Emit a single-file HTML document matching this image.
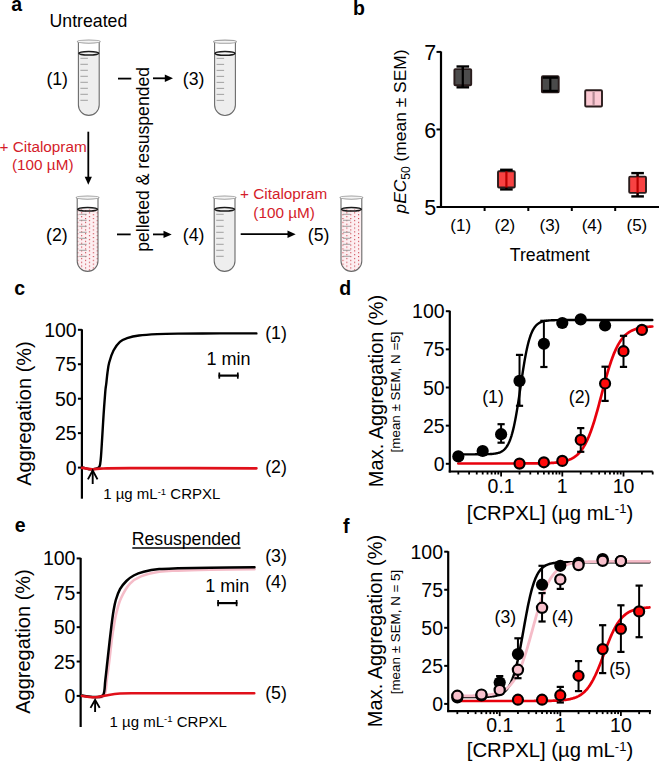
<!DOCTYPE html>
<html><head><meta charset="utf-8"><style>
html,body{margin:0;padding:0;background:#fff;}
svg{display:block;}
text{font-family:"Liberation Sans", sans-serif;}
</style></head><body>
<svg width="659" height="761" viewBox="0 0 659 761" font-family='"Liberation Sans", sans-serif'>
<defs>
<pattern id="dots" x="77.2" y="218.0" width="7.8" height="3.8" patternUnits="userSpaceOnUse">
<rect width="7.8" height="3.8" fill="#fdeff1"/>
<circle cx="0.6" cy="0.6" r="0.62" fill="#c8303c"/>
<circle cx="4.5" cy="2.5" r="0.62" fill="#c8303c"/>
</pattern>
</defs>
<text x="11.2" y="10.6" font-size="19.5" text-anchor="start" fill="#000" font-weight="bold" >a</text>
<text x="49.6" y="26.6" font-size="17.7" text-anchor="start" fill="#000" font-weight="normal" >Untreated</text>
<path d="M78.4,53.3 L78.4,105.0 A10.4,10.4 0 0 0 99.2,105.0 L99.2,53.3 Z" fill="#eeeeee"/>
<path d="M78.4,41.5 L78.4,105.0 A10.4,10.4 0 0 0 99.2,105.0 L99.2,41.5" fill="none" stroke="#6a6a6a" stroke-width="1.1"/>
<ellipse cx="88.80000000000001" cy="41.6" rx="11.5" ry="1.6" fill="#f4f4f4" stroke="#a0a0a0" stroke-width="1.1"/>
<line x1="80.4" y1="58.3" x2="87.9" y2="58.3" stroke="#999" stroke-width="0.9"/>
<line x1="80.4" y1="64.3" x2="87.9" y2="64.3" stroke="#999" stroke-width="0.9"/>
<line x1="80.4" y1="70.3" x2="87.9" y2="70.3" stroke="#999" stroke-width="0.9"/>
<line x1="80.4" y1="76.3" x2="87.9" y2="76.3" stroke="#999" stroke-width="0.9"/>
<line x1="80.4" y1="82.3" x2="87.9" y2="82.3" stroke="#999" stroke-width="0.9"/>
<line x1="80.4" y1="88.3" x2="87.9" y2="88.3" stroke="#999" stroke-width="0.9"/>
<line x1="80.4" y1="94.3" x2="87.9" y2="94.3" stroke="#999" stroke-width="0.9"/>
<line x1="80.4" y1="100.3" x2="87.9" y2="100.3" stroke="#999" stroke-width="0.9"/>
<ellipse cx="88.80000000000001" cy="53.3" rx="9.9" ry="1.8" fill="none" stroke="#1a1a1a" stroke-width="1.5"/>
<path d="M77.2,209.3 L77.2,261.0 A10.4,10.4 0 0 0 98.0,261.0 L98.0,209.3 Z" fill="url(#dots)"/>
<path d="M77.2,197.5 L77.2,261.0 A10.4,10.4 0 0 0 98.0,261.0 L98.0,197.5" fill="none" stroke="#6a6a6a" stroke-width="1.1"/>
<ellipse cx="87.60000000000001" cy="197.6" rx="11.5" ry="1.6" fill="#f4f4f4" stroke="#a0a0a0" stroke-width="1.1"/>
<line x1="79.2" y1="214.3" x2="86.7" y2="214.3" stroke="#999" stroke-width="0.9"/>
<line x1="79.2" y1="220.3" x2="86.7" y2="220.3" stroke="#999" stroke-width="0.9"/>
<line x1="79.2" y1="226.3" x2="86.7" y2="226.3" stroke="#999" stroke-width="0.9"/>
<line x1="79.2" y1="232.3" x2="86.7" y2="232.3" stroke="#999" stroke-width="0.9"/>
<line x1="79.2" y1="238.3" x2="86.7" y2="238.3" stroke="#999" stroke-width="0.9"/>
<line x1="79.2" y1="244.3" x2="86.7" y2="244.3" stroke="#999" stroke-width="0.9"/>
<line x1="79.2" y1="250.3" x2="86.7" y2="250.3" stroke="#999" stroke-width="0.9"/>
<line x1="79.2" y1="256.3" x2="86.7" y2="256.3" stroke="#999" stroke-width="0.9"/>
<ellipse cx="87.60000000000001" cy="209.3" rx="9.9" ry="1.8" fill="none" stroke="#1a1a1a" stroke-width="1.5"/>
<path d="M214.6,53.400000000000006 L214.6,105.1 A10.4,10.4 0 0 0 235.4,105.1 L235.4,53.400000000000006 Z" fill="#eeeeee"/>
<path d="M214.6,41.6 L214.6,105.1 A10.4,10.4 0 0 0 235.4,105.1 L235.4,41.6" fill="none" stroke="#6a6a6a" stroke-width="1.1"/>
<ellipse cx="225.0" cy="41.7" rx="11.5" ry="1.6" fill="#f4f4f4" stroke="#a0a0a0" stroke-width="1.1"/>
<line x1="216.6" y1="58.400000000000006" x2="224.1" y2="58.400000000000006" stroke="#999" stroke-width="0.9"/>
<line x1="216.6" y1="64.4" x2="224.1" y2="64.4" stroke="#999" stroke-width="0.9"/>
<line x1="216.6" y1="70.4" x2="224.1" y2="70.4" stroke="#999" stroke-width="0.9"/>
<line x1="216.6" y1="76.4" x2="224.1" y2="76.4" stroke="#999" stroke-width="0.9"/>
<line x1="216.6" y1="82.4" x2="224.1" y2="82.4" stroke="#999" stroke-width="0.9"/>
<line x1="216.6" y1="88.4" x2="224.1" y2="88.4" stroke="#999" stroke-width="0.9"/>
<line x1="216.6" y1="94.4" x2="224.1" y2="94.4" stroke="#999" stroke-width="0.9"/>
<line x1="216.6" y1="100.4" x2="224.1" y2="100.4" stroke="#999" stroke-width="0.9"/>
<ellipse cx="225.0" cy="53.400000000000006" rx="9.9" ry="1.8" fill="none" stroke="#1a1a1a" stroke-width="1.5"/>
<path d="M214.2,209.3 L214.2,261.0 A10.4,10.4 0 0 0 235.0,261.0 L235.0,209.3 Z" fill="#eeeeee"/>
<path d="M214.2,197.5 L214.2,261.0 A10.4,10.4 0 0 0 235.0,261.0 L235.0,197.5" fill="none" stroke="#6a6a6a" stroke-width="1.1"/>
<ellipse cx="224.6" cy="197.6" rx="11.5" ry="1.6" fill="#f4f4f4" stroke="#a0a0a0" stroke-width="1.1"/>
<line x1="216.2" y1="214.3" x2="223.7" y2="214.3" stroke="#999" stroke-width="0.9"/>
<line x1="216.2" y1="220.3" x2="223.7" y2="220.3" stroke="#999" stroke-width="0.9"/>
<line x1="216.2" y1="226.3" x2="223.7" y2="226.3" stroke="#999" stroke-width="0.9"/>
<line x1="216.2" y1="232.3" x2="223.7" y2="232.3" stroke="#999" stroke-width="0.9"/>
<line x1="216.2" y1="238.3" x2="223.7" y2="238.3" stroke="#999" stroke-width="0.9"/>
<line x1="216.2" y1="244.3" x2="223.7" y2="244.3" stroke="#999" stroke-width="0.9"/>
<line x1="216.2" y1="250.3" x2="223.7" y2="250.3" stroke="#999" stroke-width="0.9"/>
<line x1="216.2" y1="256.3" x2="223.7" y2="256.3" stroke="#999" stroke-width="0.9"/>
<ellipse cx="224.6" cy="209.3" rx="9.9" ry="1.8" fill="none" stroke="#1a1a1a" stroke-width="1.5"/>
<path d="M341,209.3 L341,261.0 A10.4,10.4 0 0 0 361.8,261.0 L361.8,209.3 Z" fill="url(#dots)"/>
<path d="M341,197.5 L341,261.0 A10.4,10.4 0 0 0 361.8,261.0 L361.8,197.5" fill="none" stroke="#6a6a6a" stroke-width="1.1"/>
<ellipse cx="351.4" cy="197.6" rx="11.5" ry="1.6" fill="#f4f4f4" stroke="#a0a0a0" stroke-width="1.1"/>
<line x1="343" y1="214.3" x2="350.5" y2="214.3" stroke="#999" stroke-width="0.9"/>
<line x1="343" y1="220.3" x2="350.5" y2="220.3" stroke="#999" stroke-width="0.9"/>
<line x1="343" y1="226.3" x2="350.5" y2="226.3" stroke="#999" stroke-width="0.9"/>
<line x1="343" y1="232.3" x2="350.5" y2="232.3" stroke="#999" stroke-width="0.9"/>
<line x1="343" y1="238.3" x2="350.5" y2="238.3" stroke="#999" stroke-width="0.9"/>
<line x1="343" y1="244.3" x2="350.5" y2="244.3" stroke="#999" stroke-width="0.9"/>
<line x1="343" y1="250.3" x2="350.5" y2="250.3" stroke="#999" stroke-width="0.9"/>
<line x1="343" y1="256.3" x2="350.5" y2="256.3" stroke="#999" stroke-width="0.9"/>
<ellipse cx="351.4" cy="209.3" rx="9.9" ry="1.8" fill="none" stroke="#1a1a1a" stroke-width="1.5"/>
<text x="46.4" y="84.8" font-size="17.7" text-anchor="start" fill="#000" font-weight="normal" >(1)</text>
<text x="46" y="240.6" font-size="17.7" text-anchor="start" fill="#000" font-weight="normal" >(2)</text>
<text x="182.8" y="84.8" font-size="17.7" text-anchor="start" fill="#000" font-weight="normal" >(3)</text>
<text x="182.8" y="240.6" font-size="17.7" text-anchor="start" fill="#000" font-weight="normal" >(4)</text>
<text x="307.8" y="240.6" font-size="17.7" text-anchor="start" fill="#000" font-weight="normal" >(5)</text>
<line x1="118" y1="78.6" x2="131.3" y2="78.6" stroke="#000" stroke-width="1.8" />
<line x1="153" y1="78.3" x2="167" y2="78.3" stroke="#000" stroke-width="1.8" />
<path d="M173,78.3 L164.8,74.6 L164.8,82.0 Z" fill="#000"/>
<line x1="117" y1="234.4" x2="130.7" y2="234.4" stroke="#000" stroke-width="1.8" />
<line x1="153" y1="234.4" x2="165.7" y2="234.4" stroke="#000" stroke-width="1.8" />
<path d="M171.7,234.4 L163.5,230.70000000000002 L163.5,238.1 Z" fill="#000"/>
<line x1="88.3" y1="131.7" x2="88.3" y2="178.8" stroke="#000" stroke-width="1.8" />
<path d="M88.3,184.8 L84.7,176.8 L91.89999999999999,176.8 Z" fill="#000"/>
<line x1="240.7" y1="234.2" x2="289.7" y2="234.2" stroke="#000" stroke-width="1.8" />
<path d="M295.7,234.2 L287.5,230.5 L287.5,237.89999999999998 Z" fill="#000"/>
<text transform="translate(148.5,159.4) rotate(-90)" font-size="17.6" text-anchor="middle">pelleted &amp; resuspended</text>
<text x="-0.5" y="151.9" font-size="15.3" text-anchor="start" fill="#d41c2a" font-weight="normal" >+ Citalopram</text>
<text x="12" y="169.7" font-size="15.3" text-anchor="start" fill="#d41c2a" font-weight="normal" >(100 µM)</text>
<text x="240" y="199.3" font-size="15.3" text-anchor="start" fill="#d41c2a" font-weight="normal" >+ Citalopram</text>
<text x="253.3" y="217.5" font-size="15.3" text-anchor="start" fill="#d41c2a" font-weight="normal" >(100 µM)</text>
<text x="353" y="14.8" font-size="19.5" text-anchor="start" fill="#000" font-weight="bold" >b</text>
<line x1="441" y1="51.4" x2="441" y2="208" stroke="#000" stroke-width="2.2" />
<line x1="440" y1="207" x2="659" y2="207" stroke="#000" stroke-width="2.2" />
<line x1="436.5" y1="207.0" x2="441" y2="207.0" stroke="#000" stroke-width="2" />
<text x="436.2" y="215.1" font-size="21.5" text-anchor="end" fill="#000" font-weight="normal" >5</text>
<line x1="436.5" y1="129.45" x2="441" y2="129.45" stroke="#000" stroke-width="2" />
<text x="436.2" y="137.54999999999998" font-size="21.5" text-anchor="end" fill="#000" font-weight="normal" >6</text>
<line x1="436.5" y1="51.900000000000006" x2="441" y2="51.900000000000006" stroke="#000" stroke-width="2" />
<text x="436.2" y="60.00000000000001" font-size="21.5" text-anchor="end" fill="#000" font-weight="normal" >7</text>
<line x1="484.6" y1="207" x2="484.6" y2="211" stroke="#000" stroke-width="2" />
<line x1="528.3" y1="207" x2="528.3" y2="211" stroke="#000" stroke-width="2" />
<line x1="571.8" y1="207" x2="571.8" y2="211" stroke="#000" stroke-width="2" />
<line x1="615.2" y1="207" x2="615.2" y2="211" stroke="#000" stroke-width="2" />
<text x="460.7" y="230.8" font-size="17" text-anchor="middle" fill="#000" font-weight="normal" >(1)</text>
<text x="504.9" y="230.8" font-size="17" text-anchor="middle" fill="#000" font-weight="normal" >(2)</text>
<text x="549.9" y="230.8" font-size="17" text-anchor="middle" fill="#000" font-weight="normal" >(3)</text>
<text x="592.1" y="230.8" font-size="17" text-anchor="middle" fill="#000" font-weight="normal" >(4)</text>
<text x="636.9" y="230.8" font-size="17" text-anchor="middle" fill="#000" font-weight="normal" >(5)</text>
<text x="549.8" y="261.2" font-size="17.7" text-anchor="middle" fill="#000" font-weight="normal" >Treatment</text>
<text transform="translate(406.3,131.5) rotate(-90)" font-size="17.4" text-anchor="middle"><tspan font-style="italic">pEC</tspan><tspan font-size="12" dy="4">50</tspan><tspan dy="-4"> (mean ± SEM)</tspan></text>
<rect x="454.40000000000003" y="69.10000000000001" width="16.8" height="16.2" rx="1" fill="#4c4c4c" stroke="#2a1c1c" stroke-width="1.9"/>
<line x1="462.8" y1="66.5" x2="462.8" y2="87.3" stroke="#000" stroke-width="2.2" />
<line x1="456.5" y1="66.5" x2="469.1" y2="66.5" stroke="#000" stroke-width="2.4" />
<line x1="456.5" y1="87.3" x2="469.1" y2="87.3" stroke="#000" stroke-width="2.4" />
<line x1="462.8" y1="66.5" x2="462.8" y2="69.10000000000001" stroke="#000" stroke-width="2.2" />
<line x1="462.8" y1="85.3" x2="462.8" y2="87.3" stroke="#000" stroke-width="2.2" />
<rect x="498.0" y="171.3" width="16.8" height="16.2" rx="1" fill="#f84242" stroke="#2a1c1c" stroke-width="1.9"/>
<line x1="506.4" y1="169.8" x2="506.4" y2="189.4" stroke="#b80000" stroke-width="2.2" />
<line x1="500.09999999999997" y1="169.8" x2="512.6999999999999" y2="169.8" stroke="#000" stroke-width="2.4" />
<line x1="500.09999999999997" y1="189.4" x2="512.6999999999999" y2="189.4" stroke="#000" stroke-width="2.4" />
<line x1="506.4" y1="169.8" x2="506.4" y2="171.3" stroke="#000" stroke-width="2.2" />
<line x1="506.4" y1="187.5" x2="506.4" y2="189.4" stroke="#000" stroke-width="2.2" />
<rect x="541.9" y="76.2" width="16.8" height="16.2" rx="1" fill="#4a4a4a" stroke="#2a1c1c" stroke-width="1.9"/>
<line x1="550.3" y1="77.6" x2="550.3" y2="91.0" stroke="#000" stroke-width="2.2" />
<line x1="542.6999999999999" y1="77.6" x2="557.9" y2="77.6" stroke="#000" stroke-width="2.4" />
<line x1="542.6999999999999" y1="91.0" x2="557.9" y2="91.0" stroke="#000" stroke-width="2.4" />
<rect x="585.2" y="90.30000000000001" width="16.8" height="16.2" rx="1" fill="#fbc8d2" stroke="#2a1c1c" stroke-width="1.9"/>
<line x1="593.6" y1="92.0" x2="593.6" y2="104.8" stroke="#b48a94" stroke-width="2.2" />
<rect x="629.2" y="176.65" width="16.8" height="16.2" rx="1" fill="#f84242" stroke="#2a1c1c" stroke-width="1.9"/>
<line x1="637.6" y1="173.1" x2="637.6" y2="196.4" stroke="#b80000" stroke-width="2.2" />
<line x1="631.3000000000001" y1="173.1" x2="643.9" y2="173.1" stroke="#000" stroke-width="2.4" />
<line x1="631.3000000000001" y1="196.4" x2="643.9" y2="196.4" stroke="#000" stroke-width="2.4" />
<line x1="637.6" y1="173.1" x2="637.6" y2="176.65" stroke="#000" stroke-width="2.2" />
<line x1="637.6" y1="192.85" x2="637.6" y2="196.4" stroke="#000" stroke-width="2.2" />
<text x="14.2" y="295.2" font-size="19.5" text-anchor="start" fill="#000" font-weight="bold" >c</text>
<line x1="81.9" y1="329.3" x2="81.9" y2="498.7" stroke="#000" stroke-width="2.2" />
<line x1="77.9" y1="467.6" x2="81.9" y2="467.6" stroke="#000" stroke-width="2" />
<text x="76.7" y="474.6" font-size="19.5" text-anchor="end" fill="#000" font-weight="normal" >0</text>
<line x1="77.9" y1="433.15000000000003" x2="81.9" y2="433.15000000000003" stroke="#000" stroke-width="2" />
<text x="76.7" y="440.15000000000003" font-size="19.5" text-anchor="end" fill="#000" font-weight="normal" >25</text>
<line x1="77.9" y1="398.70000000000005" x2="81.9" y2="398.70000000000005" stroke="#000" stroke-width="2" />
<text x="76.7" y="405.70000000000005" font-size="19.5" text-anchor="end" fill="#000" font-weight="normal" >50</text>
<line x1="77.9" y1="364.25" x2="81.9" y2="364.25" stroke="#000" stroke-width="2" />
<text x="76.7" y="371.25" font-size="19.5" text-anchor="end" fill="#000" font-weight="normal" >75</text>
<line x1="77.9" y1="329.8" x2="81.9" y2="329.8" stroke="#000" stroke-width="2" />
<text x="76.7" y="336.8" font-size="19.5" text-anchor="end" fill="#000" font-weight="normal" >100</text>
<text transform="translate(31.3,413.5) rotate(-90)" font-size="20" text-anchor="middle">Aggregation (%)</text>
<path d="M82.00,467.20 C83.17,467.53 86.67,468.97 89.00,469.20 C91.33,469.43 94.25,469.05 96.00,468.60 C97.75,468.15 98.70,468.15 99.50,466.50 C100.30,464.85 100.35,463.52 100.80,458.70 C101.25,453.88 101.73,444.97 102.20,437.60 C102.67,430.23 103.08,422.20 103.60,414.50 C104.12,406.80 104.87,396.45 105.30,391.40 C105.73,386.35 105.83,387.35 106.20,384.20 C106.57,381.05 107.00,376.12 107.50,372.50 C108.00,368.88 108.20,366.17 109.20,362.50 C110.20,358.83 111.72,353.95 113.50,350.50 C115.28,347.05 117.63,343.85 119.90,341.80 C122.17,339.75 123.92,339.25 127.10,338.20 C130.28,337.15 133.98,336.18 139.00,335.50 C144.02,334.82 150.70,334.42 157.20,334.10 C163.70,333.78 167.53,333.72 178.00,333.60 C188.47,333.48 206.93,333.43 220.00,333.40 C233.07,333.37 250.33,333.40 256.40,333.40" fill="none" stroke="#000" stroke-width="2.4" stroke-linejoin="round" stroke-linecap="round" />
<path d="M82.00,467.80 C83.67,468.05 89.00,469.17 92.00,469.30 C95.00,469.43 93.67,468.78 100.00,468.60 C106.33,468.42 103.93,468.25 130.00,468.20 C156.07,468.15 235.33,468.28 256.40,468.30" fill="none" stroke="#e0101a" stroke-width="2.7" stroke-linejoin="round" stroke-linecap="round" />
<text x="265.2" y="339.4" font-size="17.8" text-anchor="start" fill="#000" font-weight="normal" >(1)</text>
<text x="265.2" y="473.4" font-size="17.8" text-anchor="start" fill="#000" font-weight="normal" >(2)</text>
<text x="206.5" y="365.1" font-size="18" text-anchor="start" fill="#000" font-weight="normal" >1 min</text>
<line x1="218.5" y1="375.6" x2="238.6" y2="375.6" stroke="#000" stroke-width="2.2" />
<line x1="219.3" y1="372.5" x2="219.3" y2="378.7" stroke="#000" stroke-width="1.7" />
<line x1="237.8" y1="372.5" x2="237.8" y2="378.7" stroke="#000" stroke-width="1.7" />
<line x1="92.7" y1="484" x2="92.7" y2="471" stroke="#000" stroke-width="1.9" />
<path d="M87.9,479.4 L92.7,470.6 L97.5,479.4" fill="none" stroke="#000" stroke-width="1.9"/>
<text x="103.2" y="499.3" font-size="15">1 µg mL<tspan font-size="9.5" dy="-4.6">-1</tspan><tspan dy="4.6"> CRPXL</tspan></text>
<text x="339.3" y="295" font-size="19.5" text-anchor="start" fill="#000" font-weight="bold" >d</text>
<line x1="449.8" y1="310.7" x2="449.8" y2="472.5" stroke="#000" stroke-width="2.2" />
<line x1="448.8" y1="471.5" x2="652.7" y2="471.5" stroke="#000" stroke-width="2.2" />
<line x1="445.8" y1="463.8" x2="449.8" y2="463.8" stroke="#000" stroke-width="2" />
<text x="444.6" y="470.8" font-size="19.5" text-anchor="end" fill="#000" font-weight="normal" >0</text>
<line x1="445.8" y1="425.65" x2="449.8" y2="425.65" stroke="#000" stroke-width="2" />
<text x="444.6" y="432.65" font-size="19.5" text-anchor="end" fill="#000" font-weight="normal" >25</text>
<line x1="445.8" y1="387.5" x2="449.8" y2="387.5" stroke="#000" stroke-width="2" />
<text x="444.6" y="394.5" font-size="19.5" text-anchor="end" fill="#000" font-weight="normal" >50</text>
<line x1="445.8" y1="349.35" x2="449.8" y2="349.35" stroke="#000" stroke-width="2" />
<text x="444.6" y="356.35" font-size="19.5" text-anchor="end" fill="#000" font-weight="normal" >75</text>
<line x1="445.8" y1="311.2" x2="449.8" y2="311.2" stroke="#000" stroke-width="2" />
<text x="444.6" y="318.2" font-size="19.5" text-anchor="end" fill="#000" font-weight="normal" >100</text>
<line x1="458.3230357346356" y1="471.5" x2="458.3230357346356" y2="474.5" stroke="#000" stroke-width="1.8" />
<line x1="469.0998207888433" y1="471.5" x2="469.0998207888433" y2="474.5" stroke="#000" stroke-width="1.8" />
<line x1="476.74607146927127" y1="471.5" x2="476.74607146927127" y2="474.5" stroke="#000" stroke-width="1.8" />
<line x1="482.6769642653643" y1="471.5" x2="482.6769642653643" y2="474.5" stroke="#000" stroke-width="1.8" />
<line x1="487.52285652347894" y1="471.5" x2="487.52285652347894" y2="474.5" stroke="#000" stroke-width="1.8" />
<line x1="491.6200000488725" y1="471.5" x2="491.6200000488725" y2="474.5" stroke="#000" stroke-width="1.8" />
<line x1="495.1691072039069" y1="471.5" x2="495.1691072039069" y2="474.5" stroke="#000" stroke-width="1.8" />
<line x1="498.29964157768666" y1="471.5" x2="498.29964157768666" y2="474.5" stroke="#000" stroke-width="1.8" />
<line x1="501.09999999999997" y1="471.5" x2="501.09999999999997" y2="476.5" stroke="#000" stroke-width="1.8" />
<line x1="519.5230357346356" y1="471.5" x2="519.5230357346356" y2="474.5" stroke="#000" stroke-width="1.8" />
<line x1="530.2998207888432" y1="471.5" x2="530.2998207888432" y2="474.5" stroke="#000" stroke-width="1.8" />
<line x1="537.9460714692713" y1="471.5" x2="537.9460714692713" y2="474.5" stroke="#000" stroke-width="1.8" />
<line x1="543.8769642653643" y1="471.5" x2="543.8769642653643" y2="474.5" stroke="#000" stroke-width="1.8" />
<line x1="548.722856523479" y1="471.5" x2="548.722856523479" y2="474.5" stroke="#000" stroke-width="1.8" />
<line x1="552.8200000488724" y1="471.5" x2="552.8200000488724" y2="474.5" stroke="#000" stroke-width="1.8" />
<line x1="556.3691072039069" y1="471.5" x2="556.3691072039069" y2="474.5" stroke="#000" stroke-width="1.8" />
<line x1="559.4996415776866" y1="471.5" x2="559.4996415776866" y2="474.5" stroke="#000" stroke-width="1.8" />
<line x1="562.3" y1="471.5" x2="562.3" y2="476.5" stroke="#000" stroke-width="1.8" />
<line x1="580.7230357346356" y1="471.5" x2="580.7230357346356" y2="474.5" stroke="#000" stroke-width="1.8" />
<line x1="591.4998207888433" y1="471.5" x2="591.4998207888433" y2="474.5" stroke="#000" stroke-width="1.8" />
<line x1="599.1460714692713" y1="471.5" x2="599.1460714692713" y2="474.5" stroke="#000" stroke-width="1.8" />
<line x1="605.0769642653643" y1="471.5" x2="605.0769642653643" y2="474.5" stroke="#000" stroke-width="1.8" />
<line x1="609.9228565234789" y1="471.5" x2="609.9228565234789" y2="474.5" stroke="#000" stroke-width="1.8" />
<line x1="614.0200000488725" y1="471.5" x2="614.0200000488725" y2="474.5" stroke="#000" stroke-width="1.8" />
<line x1="617.5691072039069" y1="471.5" x2="617.5691072039069" y2="474.5" stroke="#000" stroke-width="1.8" />
<line x1="620.6996415776866" y1="471.5" x2="620.6996415776866" y2="474.5" stroke="#000" stroke-width="1.8" />
<line x1="623.5" y1="471.5" x2="623.5" y2="476.5" stroke="#000" stroke-width="1.8" />
<line x1="641.9230357346356" y1="471.5" x2="641.9230357346356" y2="474.5" stroke="#000" stroke-width="1.8" />
<line x1="652.6998207888433" y1="471.5" x2="652.6998207888433" y2="474.5" stroke="#000" stroke-width="1.8" />
<text x="501.09999999999997" y="493.3" font-size="19.5" text-anchor="middle" fill="#000" font-weight="normal" >0.1</text>
<text x="562.3" y="493.3" font-size="19.5" text-anchor="middle" fill="#000" font-weight="normal" >1</text>
<text x="623.5" y="493.3" font-size="19.5" text-anchor="middle" fill="#000" font-weight="normal" >10</text>
<text x="550.0" y="519.9" font-size="20.3" text-anchor="middle">[CRPXL] (µg mL<tspan font-size="13" dy="-6.5">-1</tspan><tspan dy="6.5">)</tspan></text>
<text transform="translate(382.8,391) rotate(-90)" font-size="20" text-anchor="middle">Max. Aggregation (%)</text>
<text transform="translate(399.7,392) rotate(-90)" font-size="13.4" text-anchor="middle">[mean ± SEM, N =5]</text>
<path d="M458.32,454.34 L458.94,454.34 L459.55,454.34 L460.16,454.34 L460.77,454.34 L461.38,454.34 L462.00,454.34 L462.61,454.34 L463.22,454.34 L463.83,454.34 L464.44,454.34 L465.06,454.34 L465.67,454.34 L466.28,454.34 L466.89,454.34 L467.50,454.34 L468.12,454.34 L468.73,454.34 L469.34,454.33 L469.95,454.33 L470.56,454.33 L471.18,454.33 L471.79,454.33 L472.40,454.33 L473.01,454.33 L473.62,454.33 L474.24,454.33 L474.85,454.33 L475.46,454.32 L476.07,454.32 L476.68,454.32 L477.30,454.32 L477.91,454.32 L478.52,454.31 L479.13,454.31 L479.74,454.30 L480.36,454.30 L480.97,454.30 L481.58,454.29 L482.19,454.28 L482.80,454.28 L483.42,454.27 L484.03,454.26 L484.64,454.25 L485.25,454.23 L485.86,454.22 L486.48,454.21 L487.09,454.19 L487.70,454.17 L488.31,454.15 L488.92,454.12 L489.54,454.09 L490.15,454.06 L490.76,454.02 L491.37,453.98 L491.98,453.93 L492.60,453.88 L493.21,453.82 L493.82,453.75 L494.43,453.67 L495.04,453.58 L495.66,453.48 L496.27,453.37 L496.88,453.24 L497.49,453.10 L498.10,452.94 L498.72,452.75 L499.33,452.54 L499.94,452.31 L500.55,452.05 L501.16,451.75 L501.78,451.41 L502.39,451.04 L503.00,450.61 L503.61,450.13 L504.22,449.59 L504.84,448.99 L505.45,448.32 L506.06,447.56 L506.67,446.71 L507.28,445.77 L507.90,444.71 L508.51,443.54 L509.12,442.24 L509.73,440.80 L510.34,439.21 L510.96,437.46 L511.57,435.53 L512.18,433.43 L512.79,431.14 L513.40,428.66 L514.02,425.98 L514.63,423.09 L515.24,420.01 L515.85,416.74 L516.46,413.29 L517.08,409.66 L517.69,405.88 L518.30,401.96 L518.91,397.94 L519.52,393.84 L520.14,389.69 L520.75,385.51 L521.36,381.35 L521.97,377.24 L522.58,373.20 L523.20,369.26 L523.81,365.45 L524.42,361.79 L525.03,358.30 L525.64,355.00 L526.26,351.88 L526.87,348.96 L527.48,346.24 L528.09,343.71 L528.70,341.39 L529.32,339.25 L529.93,337.29 L530.54,335.51 L531.15,333.89 L531.76,332.42 L532.38,331.09 L532.99,329.90 L533.60,328.82 L534.21,327.85 L534.82,326.99 L535.44,326.21 L536.05,325.52 L536.66,324.91 L537.27,324.36 L537.88,323.87 L538.50,323.43 L539.11,323.05 L539.72,322.70 L540.33,322.40 L540.94,322.13 L541.56,321.89 L542.17,321.68 L542.78,321.49 L543.39,321.32 L544.00,321.17 L544.62,321.04 L545.23,320.93 L545.84,320.83 L546.45,320.74 L547.06,320.66 L547.68,320.59 L548.29,320.52 L548.90,320.47 L549.51,320.42 L550.12,320.38 L550.74,320.34 L551.35,320.31 L551.96,320.28 L552.57,320.25 L553.18,320.23 L553.80,320.21 L554.41,320.19 L555.02,320.17 L555.63,320.16 L556.24,320.14 L556.86,320.13 L557.47,320.12 L558.08,320.12 L558.69,320.11 L559.30,320.10 L559.92,320.10 L560.53,320.09 L561.14,320.09 L561.75,320.08 L562.36,320.08 L562.98,320.07 L563.59,320.07 L564.20,320.07 L564.81,320.07 L565.42,320.07 L566.04,320.06 L566.65,320.06 L567.26,320.06 L567.87,320.06 L568.48,320.06 L569.10,320.06 L569.71,320.06 L570.32,320.06 L570.93,320.06 L571.54,320.06 L572.16,320.05 L572.77,320.05 L573.38,320.05 L573.99,320.05 L574.60,320.05 L575.22,320.05 L575.83,320.05 L576.44,320.05 L577.05,320.05 L577.66,320.05 L578.28,320.05 L578.89,320.05 L579.50,320.05 L580.11,320.05 L580.72,320.05 L581.34,320.05 L581.95,320.05 L582.56,320.05 L583.17,320.05 L583.78,320.05 L584.40,320.05 L585.01,320.05 L585.62,320.05 L586.23,320.05 L586.84,320.05 L587.46,320.05 L588.07,320.05 L588.68,320.05 L589.29,320.05 L589.90,320.05 L590.52,320.05 L591.13,320.05 L591.74,320.05 L592.35,320.05 L592.96,320.05 L593.58,320.05 L594.19,320.05 L594.80,320.05 L595.41,320.05 L596.02,320.05 L596.64,320.05 L597.25,320.05 L597.86,320.05 L598.47,320.05 L599.08,320.05 L599.70,320.05 L600.31,320.05 L600.92,320.05 L601.53,320.05 L602.14,320.05 L602.76,320.05 L603.37,320.05 L603.98,320.05 L604.59,320.05 L605.20,320.05 L605.82,320.05 L606.43,320.05 L607.04,320.05 L607.65,320.05 L608.26,320.05 L608.88,320.05 L609.49,320.05 L610.10,320.05 L610.71,320.05 L611.32,320.05 L611.94,320.05 L612.55,320.05 L613.16,320.05 L613.77,320.05 L614.38,320.05 L615.00,320.05 L615.61,320.05 L616.22,320.05 L616.83,320.05 L617.44,320.05 L618.06,320.05 L618.67,320.05 L619.28,320.05 L619.89,320.05 L620.50,320.05 L621.12,320.05 L621.73,320.05 L622.34,320.05 L622.95,320.05 L623.56,320.05 L624.18,320.05 L624.79,320.05 L625.40,320.05 L626.01,320.05 L626.62,320.05 L627.24,320.05 L627.85,320.05 L628.46,320.05 L629.07,320.05 L629.68,320.05 L630.30,320.05 L630.91,320.05 L631.52,320.05 L632.13,320.05 L632.74,320.05 L633.36,320.05 L633.97,320.05 L634.58,320.05 L635.19,320.05 L635.80,320.05 L636.42,320.05 L637.03,320.05 L637.64,320.05 L638.25,320.05 L638.86,320.05 L639.48,320.05 L640.09,320.05 L640.70,320.05 L641.31,320.05 L641.92,320.05 L642.54,320.05 L643.15,320.05 L643.76,320.05 L644.37,320.05 L644.98,320.05 L645.60,320.05 L646.21,320.05 L646.82,320.05 L647.43,320.05 L648.04,320.05 L648.66,320.05 L649.27,320.05 L649.88,320.05 L650.49,320.05 L651.10,320.05 L651.72,320.05 L652.33,320.05" fill="none" stroke="#000" stroke-width="2.4" stroke-linejoin="round" stroke-linecap="round" />
<path d="M458.32,463.49 L458.94,463.49 L459.55,463.49 L460.16,463.49 L460.77,463.49 L461.38,463.49 L462.00,463.49 L462.61,463.49 L463.22,463.49 L463.83,463.49 L464.44,463.49 L465.06,463.49 L465.67,463.49 L466.28,463.49 L466.89,463.49 L467.50,463.49 L468.12,463.49 L468.73,463.49 L469.34,463.49 L469.95,463.49 L470.56,463.49 L471.18,463.49 L471.79,463.49 L472.40,463.49 L473.01,463.49 L473.62,463.49 L474.24,463.49 L474.85,463.49 L475.46,463.49 L476.07,463.49 L476.68,463.49 L477.30,463.49 L477.91,463.49 L478.52,463.49 L479.13,463.49 L479.74,463.49 L480.36,463.49 L480.97,463.49 L481.58,463.49 L482.19,463.49 L482.80,463.49 L483.42,463.49 L484.03,463.49 L484.64,463.49 L485.25,463.49 L485.86,463.49 L486.48,463.49 L487.09,463.49 L487.70,463.49 L488.31,463.49 L488.92,463.49 L489.54,463.49 L490.15,463.49 L490.76,463.49 L491.37,463.49 L491.98,463.49 L492.60,463.49 L493.21,463.49 L493.82,463.49 L494.43,463.49 L495.04,463.49 L495.66,463.49 L496.27,463.49 L496.88,463.49 L497.49,463.49 L498.10,463.49 L498.72,463.49 L499.33,463.49 L499.94,463.49 L500.55,463.49 L501.16,463.49 L501.78,463.49 L502.39,463.49 L503.00,463.49 L503.61,463.49 L504.22,463.49 L504.84,463.49 L505.45,463.49 L506.06,463.49 L506.67,463.49 L507.28,463.49 L507.90,463.49 L508.51,463.49 L509.12,463.49 L509.73,463.49 L510.34,463.49 L510.96,463.49 L511.57,463.49 L512.18,463.49 L512.79,463.49 L513.40,463.49 L514.02,463.49 L514.63,463.49 L515.24,463.49 L515.85,463.48 L516.46,463.48 L517.08,463.48 L517.69,463.48 L518.30,463.48 L518.91,463.48 L519.52,463.48 L520.14,463.48 L520.75,463.48 L521.36,463.48 L521.97,463.47 L522.58,463.47 L523.20,463.47 L523.81,463.47 L524.42,463.47 L525.03,463.47 L525.64,463.46 L526.26,463.46 L526.87,463.46 L527.48,463.46 L528.09,463.46 L528.70,463.45 L529.32,463.45 L529.93,463.45 L530.54,463.44 L531.15,463.44 L531.76,463.44 L532.38,463.43 L532.99,463.43 L533.60,463.42 L534.21,463.42 L534.82,463.41 L535.44,463.41 L536.05,463.40 L536.66,463.39 L537.27,463.39 L537.88,463.38 L538.50,463.37 L539.11,463.36 L539.72,463.35 L540.33,463.34 L540.94,463.33 L541.56,463.32 L542.17,463.31 L542.78,463.29 L543.39,463.28 L544.00,463.26 L544.62,463.25 L545.23,463.23 L545.84,463.21 L546.45,463.19 L547.06,463.17 L547.68,463.15 L548.29,463.12 L548.90,463.10 L549.51,463.07 L550.12,463.04 L550.74,463.01 L551.35,462.97 L551.96,462.94 L552.57,462.90 L553.18,462.86 L553.80,462.81 L554.41,462.76 L555.02,462.71 L555.63,462.66 L556.24,462.60 L556.86,462.54 L557.47,462.47 L558.08,462.40 L558.69,462.32 L559.30,462.24 L559.92,462.15 L560.53,462.06 L561.14,461.96 L561.75,461.85 L562.36,461.74 L562.98,461.62 L563.59,461.49 L564.20,461.35 L564.81,461.20 L565.42,461.04 L566.04,460.87 L566.65,460.69 L567.26,460.50 L567.87,460.29 L568.48,460.07 L569.10,459.84 L569.71,459.59 L570.32,459.32 L570.93,459.04 L571.54,458.74 L572.16,458.41 L572.77,458.07 L573.38,457.70 L573.99,457.32 L574.60,456.90 L575.22,456.46 L575.83,456.00 L576.44,455.50 L577.05,454.97 L577.66,454.41 L578.28,453.82 L578.89,453.19 L579.50,452.52 L580.11,451.82 L580.72,451.07 L581.34,450.28 L581.95,449.45 L582.56,448.57 L583.17,447.64 L583.78,446.66 L584.40,445.63 L585.01,444.55 L585.62,443.41 L586.23,442.22 L586.84,440.97 L587.46,439.66 L588.07,438.29 L588.68,436.86 L589.29,435.38 L589.90,433.83 L590.52,432.21 L591.13,430.54 L591.74,428.81 L592.35,427.02 L592.96,425.17 L593.58,423.27 L594.19,421.31 L594.80,419.29 L595.41,417.23 L596.02,415.12 L596.64,412.97 L597.25,410.78 L597.86,408.56 L598.47,406.30 L599.08,404.02 L599.70,401.72 L600.31,399.40 L600.92,397.08 L601.53,394.74 L602.14,392.41 L602.76,390.08 L603.37,387.76 L603.98,385.46 L604.59,383.18 L605.20,380.92 L605.82,378.70 L606.43,376.51 L607.04,374.36 L607.65,372.25 L608.26,370.19 L608.88,368.18 L609.49,366.22 L610.10,364.31 L610.71,362.47 L611.32,360.67 L611.94,358.94 L612.55,357.27 L613.16,355.66 L613.77,354.11 L614.38,352.62 L615.00,351.20 L615.61,349.83 L616.22,348.52 L616.83,347.27 L617.44,346.08 L618.06,344.94 L618.67,343.86 L619.28,342.83 L619.89,341.85 L620.50,340.92 L621.12,340.04 L621.73,339.21 L622.34,338.42 L622.95,337.67 L623.56,336.97 L624.18,336.30 L624.79,335.67 L625.40,335.08 L626.01,334.52 L626.62,333.99 L627.24,333.50 L627.85,333.03 L628.46,332.59 L629.07,332.18 L629.68,331.79 L630.30,331.42 L630.91,331.08 L631.52,330.76 L632.13,330.46 L632.74,330.17 L633.36,329.91 L633.97,329.66 L634.58,329.42 L635.19,329.20 L635.80,329.00 L636.42,328.81 L637.03,328.63 L637.64,328.46 L638.25,328.30 L638.86,328.15 L639.48,328.01 L640.09,327.88 L640.70,327.76 L641.31,327.64 L641.92,327.54 L642.54,327.44 L643.15,327.34 L643.76,327.26 L644.37,327.18 L644.98,327.10 L645.60,327.03 L646.21,326.96 L646.82,326.90 L647.43,326.84 L648.04,326.79 L648.66,326.73 L649.27,326.69 L649.88,326.64 L650.49,326.60 L651.10,326.56 L651.72,326.52 L652.33,326.49" fill="none" stroke="#e8000c" stroke-width="2.7" stroke-linejoin="round" stroke-linecap="round" />
<circle cx="458.32" cy="456.4" r="6.1" fill="#000"/>
<circle cx="482.68" cy="451" r="6.1" fill="#000"/>
<line x1="501.09999999999997" y1="424.2" x2="501.09999999999997" y2="442.7" stroke="#000" stroke-width="2" />
<line x1="497.49999999999994" y1="424.2" x2="504.7" y2="424.2" stroke="#000" stroke-width="2.2" />
<line x1="497.49999999999994" y1="442.7" x2="504.7" y2="442.7" stroke="#000" stroke-width="2.2" />
<circle cx="501.10" cy="434.2" r="6.1" fill="#000"/>
<line x1="519.5230357346356" y1="354.9" x2="519.5230357346356" y2="405.8" stroke="#000" stroke-width="2" />
<line x1="515.9230357346356" y1="354.9" x2="523.1230357346357" y2="354.9" stroke="#000" stroke-width="2.2" />
<line x1="515.9230357346356" y1="405.8" x2="523.1230357346357" y2="405.8" stroke="#000" stroke-width="2.2" />
<circle cx="519.52" cy="380.9" r="6.1" fill="#000"/>
<line x1="543.8769642653643" y1="320.8" x2="543.8769642653643" y2="367" stroke="#000" stroke-width="2" />
<line x1="540.2769642653643" y1="320.8" x2="547.4769642653644" y2="320.8" stroke="#000" stroke-width="2.2" />
<line x1="540.2769642653643" y1="367" x2="547.4769642653644" y2="367" stroke="#000" stroke-width="2.2" />
<circle cx="543.88" cy="343.8" r="6.1" fill="#000"/>
<circle cx="562.30" cy="323" r="6.1" fill="#000"/>
<circle cx="580.72" cy="319.4" r="6.1" fill="#000"/>
<circle cx="605.08" cy="325.5" r="6.1" fill="#000"/>
<circle cx="519.52" cy="463.6" r="5.0" fill="#ff0a0a" stroke="#000" stroke-width="2.2"/>
<circle cx="543.88" cy="462.3" r="5.0" fill="#ff0a0a" stroke="#000" stroke-width="2.2"/>
<circle cx="562.30" cy="460.9" r="5.0" fill="#ff0a0a" stroke="#000" stroke-width="2.2"/>
<line x1="580.7230357346356" y1="428.1" x2="580.7230357346356" y2="451.8" stroke="#000" stroke-width="2" />
<line x1="577.1230357346356" y1="428.1" x2="584.3230357346356" y2="428.1" stroke="#000" stroke-width="2.2" />
<line x1="577.1230357346356" y1="451.8" x2="584.3230357346356" y2="451.8" stroke="#000" stroke-width="2.2" />
<circle cx="580.72" cy="439.9" r="5.0" fill="#ff0a0a" stroke="#000" stroke-width="2.2"/>
<line x1="605.0769642653643" y1="366.7" x2="605.0769642653643" y2="400.9" stroke="#000" stroke-width="2" />
<line x1="601.4769642653642" y1="366.7" x2="608.6769642653643" y2="366.7" stroke="#000" stroke-width="2.2" />
<line x1="601.4769642653642" y1="400.9" x2="608.6769642653643" y2="400.9" stroke="#000" stroke-width="2.2" />
<circle cx="605.08" cy="383.5" r="5.0" fill="#ff0a0a" stroke="#000" stroke-width="2.2"/>
<line x1="623.5" y1="335.8" x2="623.5" y2="366.9" stroke="#000" stroke-width="2" />
<line x1="619.9" y1="335.8" x2="627.1" y2="335.8" stroke="#000" stroke-width="2.2" />
<line x1="619.9" y1="366.9" x2="627.1" y2="366.9" stroke="#000" stroke-width="2.2" />
<circle cx="623.50" cy="351.2" r="5.0" fill="#ff0a0a" stroke="#000" stroke-width="2.2"/>
<circle cx="641.92" cy="329.9" r="5.0" fill="#ff0a0a" stroke="#000" stroke-width="2.2"/>
<text x="482.2" y="403.2" font-size="17.7" text-anchor="start" fill="#000" font-weight="normal" >(1)</text>
<text x="568.8" y="403.2" font-size="17.7" text-anchor="start" fill="#000" font-weight="normal" >(2)</text>
<text x="14.7" y="531.9" font-size="19.5" text-anchor="start" fill="#000" font-weight="bold" >e</text>
<line x1="80.65" y1="557.9" x2="80.65" y2="727" stroke="#000" stroke-width="2.2" />
<line x1="76.65" y1="695.9" x2="80.65" y2="695.9" stroke="#000" stroke-width="2" />
<text x="75.45" y="702.9" font-size="19.5" text-anchor="end" fill="#000" font-weight="normal" >0</text>
<line x1="76.65" y1="661.525" x2="80.65" y2="661.525" stroke="#000" stroke-width="2" />
<text x="75.45" y="668.525" font-size="19.5" text-anchor="end" fill="#000" font-weight="normal" >25</text>
<line x1="76.65" y1="627.15" x2="80.65" y2="627.15" stroke="#000" stroke-width="2" />
<text x="75.45" y="634.15" font-size="19.5" text-anchor="end" fill="#000" font-weight="normal" >50</text>
<line x1="76.65" y1="592.775" x2="80.65" y2="592.775" stroke="#000" stroke-width="2" />
<text x="75.45" y="599.775" font-size="19.5" text-anchor="end" fill="#000" font-weight="normal" >75</text>
<line x1="76.65" y1="558.4" x2="80.65" y2="558.4" stroke="#000" stroke-width="2" />
<text x="75.45" y="565.4" font-size="19.5" text-anchor="end" fill="#000" font-weight="normal" >100</text>
<text transform="translate(30.2,641.5) rotate(-90)" font-size="20" text-anchor="middle">Aggregation (%)</text>
<text x="131.8" y="545.3" font-size="17.65">Resuspended</text>
<line x1="132.3" y1="548.0" x2="240.5" y2="548.0" stroke="#000" stroke-width="1.4" />
<path d="M82.00,695.60 C84.00,695.88 90.28,697.33 94.00,697.30 C97.72,697.27 102.13,698.62 104.30,695.40 C106.47,692.18 106.13,683.98 107.00,678.00 C107.87,672.02 108.67,666.17 109.50,659.50 C110.33,652.83 111.22,643.92 112.00,638.00 C112.78,632.08 113.45,628.25 114.20,624.00 C114.95,619.75 115.37,616.80 116.50,612.50 C117.63,608.20 118.75,603.00 121.00,598.20 C123.25,593.40 126.67,587.33 130.00,583.70 C133.33,580.07 136.13,578.38 141.00,576.40 C145.87,574.42 153.03,572.77 159.20,571.80 C165.37,570.83 169.53,570.93 178.00,570.60 C186.47,570.27 197.25,570.02 210.00,569.80 C222.75,569.58 247.08,569.38 254.50,569.30" fill="none" stroke="#f5bcc8" stroke-width="2.6" stroke-linejoin="round" stroke-linecap="round" />
<path d="M82.00,695.60 C84.13,695.83 91.27,697.10 94.80,697.00 C98.33,696.90 101.45,697.78 103.20,695.00 C104.95,692.22 104.60,685.92 105.30,680.30 C106.00,674.68 106.70,667.62 107.40,661.30 C108.10,654.98 108.80,648.53 109.50,642.40 C110.20,636.27 110.93,629.73 111.60,624.50 C112.27,619.27 112.80,615.08 113.50,611.00 C114.20,606.92 114.72,603.65 115.80,600.00 C116.88,596.35 118.23,592.27 120.00,589.10 C121.77,585.93 124.12,583.27 126.40,581.00 C128.68,578.73 130.82,577.03 133.70,575.50 C136.58,573.97 139.45,572.87 143.70,571.80 C147.95,570.73 153.48,569.68 159.20,569.10 C164.92,568.52 169.53,568.52 178.00,568.30 C186.47,568.08 197.25,567.98 210.00,567.80 C222.75,567.62 247.08,567.30 254.50,567.20" fill="none" stroke="#000" stroke-width="2.5" stroke-linejoin="round" stroke-linecap="round" />
<path d="M82.00,696.00 C83.78,696.22 88.98,697.33 92.70,697.30 C96.42,697.27 99.75,696.45 104.30,695.80 C108.85,695.15 112.38,693.83 120.00,693.40 C127.62,692.97 127.62,693.22 150.00,693.20 C172.38,693.18 236.92,693.28 254.30,693.30" fill="none" stroke="#e0101a" stroke-width="2.5" stroke-linejoin="round" stroke-linecap="round" />
<text x="265.2" y="561.6" font-size="17.8" text-anchor="start" fill="#000" font-weight="normal" >(3)</text>
<text x="265.2" y="588.4" font-size="17.8" text-anchor="start" fill="#000" font-weight="normal" >(4)</text>
<text x="265.2" y="699.4" font-size="17.8" text-anchor="start" fill="#000" font-weight="normal" >(5)</text>
<text x="205.3" y="592.1" font-size="18" text-anchor="start" fill="#000" font-weight="normal" >1 min</text>
<line x1="217.3" y1="603.1" x2="237.4" y2="603.1" stroke="#000" stroke-width="2.2" />
<line x1="218.1" y1="600" x2="218.1" y2="606.2" stroke="#000" stroke-width="1.7" />
<line x1="236.6" y1="600" x2="236.6" y2="606.2" stroke="#000" stroke-width="1.7" />
<line x1="95.1" y1="712" x2="95.1" y2="700.5" stroke="#000" stroke-width="1.9" />
<path d="M90.5,707.9 L95.1,699.9 L99.7,707.9" fill="none" stroke="#000" stroke-width="1.9"/>
<text x="109.6" y="726.8" font-size="15">1 µg mL<tspan font-size="9.5" dy="-4.6">-1</tspan><tspan dy="4.6"> CRPXL</tspan></text>
<text x="343" y="532.5" font-size="19.5" text-anchor="start" fill="#000" font-weight="bold" >f</text>
<line x1="448.2" y1="551.2" x2="448.2" y2="712.1" stroke="#000" stroke-width="2.2" />
<line x1="447.2" y1="711.1" x2="651" y2="711.1" stroke="#000" stroke-width="2.2" />
<line x1="444.2" y1="703.9" x2="448.2" y2="703.9" stroke="#000" stroke-width="2" />
<text x="443.0" y="710.9" font-size="19.5" text-anchor="end" fill="#000" font-weight="normal" >0</text>
<line x1="444.2" y1="665.85" x2="448.2" y2="665.85" stroke="#000" stroke-width="2" />
<text x="443.0" y="672.85" font-size="19.5" text-anchor="end" fill="#000" font-weight="normal" >25</text>
<line x1="444.2" y1="627.8" x2="448.2" y2="627.8" stroke="#000" stroke-width="2" />
<text x="443.0" y="634.8" font-size="19.5" text-anchor="end" fill="#000" font-weight="normal" >50</text>
<line x1="444.2" y1="589.75" x2="448.2" y2="589.75" stroke="#000" stroke-width="2" />
<text x="443.0" y="596.75" font-size="19.5" text-anchor="end" fill="#000" font-weight="normal" >75</text>
<line x1="444.2" y1="551.7" x2="448.2" y2="551.7" stroke="#000" stroke-width="2" />
<text x="443.0" y="558.7" font-size="19.5" text-anchor="end" fill="#000" font-weight="normal" >100</text>
<line x1="457.3424177372372" y1="711.1" x2="457.3424177372372" y2="714.1" stroke="#000" stroke-width="1.8" />
<line x1="468.0135480360115" y1="711.1" x2="468.0135480360115" y2="714.1" stroke="#000" stroke-width="1.8" />
<line x1="475.58483547447446" y1="711.1" x2="475.58483547447446" y2="714.1" stroke="#000" stroke-width="1.8" />
<line x1="481.4575822627627" y1="711.1" x2="481.4575822627627" y2="714.1" stroke="#000" stroke-width="1.8" />
<line x1="486.25596577324876" y1="711.1" x2="486.25596577324876" y2="714.1" stroke="#000" stroke-width="1.8" />
<line x1="490.31294122486395" y1="711.1" x2="490.31294122486395" y2="714.1" stroke="#000" stroke-width="1.8" />
<line x1="493.82725321171176" y1="711.1" x2="493.82725321171176" y2="714.1" stroke="#000" stroke-width="1.8" />
<line x1="496.927096072023" y1="711.1" x2="496.927096072023" y2="714.1" stroke="#000" stroke-width="1.8" />
<line x1="499.69999999999993" y1="711.1" x2="499.69999999999993" y2="716.1" stroke="#000" stroke-width="1.8" />
<line x1="517.9424177372372" y1="711.1" x2="517.9424177372372" y2="714.1" stroke="#000" stroke-width="1.8" />
<line x1="528.6135480360115" y1="711.1" x2="528.6135480360115" y2="714.1" stroke="#000" stroke-width="1.8" />
<line x1="536.1848354744744" y1="711.1" x2="536.1848354744744" y2="714.1" stroke="#000" stroke-width="1.8" />
<line x1="542.0575822627627" y1="711.1" x2="542.0575822627627" y2="714.1" stroke="#000" stroke-width="1.8" />
<line x1="546.8559657732487" y1="711.1" x2="546.8559657732487" y2="714.1" stroke="#000" stroke-width="1.8" />
<line x1="550.912941224864" y1="711.1" x2="550.912941224864" y2="714.1" stroke="#000" stroke-width="1.8" />
<line x1="554.4272532117118" y1="711.1" x2="554.4272532117118" y2="714.1" stroke="#000" stroke-width="1.8" />
<line x1="557.527096072023" y1="711.1" x2="557.527096072023" y2="714.1" stroke="#000" stroke-width="1.8" />
<line x1="560.3" y1="711.1" x2="560.3" y2="716.1" stroke="#000" stroke-width="1.8" />
<line x1="578.5424177372372" y1="711.1" x2="578.5424177372372" y2="714.1" stroke="#000" stroke-width="1.8" />
<line x1="589.2135480360115" y1="711.1" x2="589.2135480360115" y2="714.1" stroke="#000" stroke-width="1.8" />
<line x1="596.7848354744744" y1="711.1" x2="596.7848354744744" y2="714.1" stroke="#000" stroke-width="1.8" />
<line x1="602.6575822627627" y1="711.1" x2="602.6575822627627" y2="714.1" stroke="#000" stroke-width="1.8" />
<line x1="607.4559657732487" y1="711.1" x2="607.4559657732487" y2="714.1" stroke="#000" stroke-width="1.8" />
<line x1="611.5129412248639" y1="711.1" x2="611.5129412248639" y2="714.1" stroke="#000" stroke-width="1.8" />
<line x1="615.0272532117117" y1="711.1" x2="615.0272532117117" y2="714.1" stroke="#000" stroke-width="1.8" />
<line x1="618.127096072023" y1="711.1" x2="618.127096072023" y2="714.1" stroke="#000" stroke-width="1.8" />
<line x1="620.9" y1="711.1" x2="620.9" y2="716.1" stroke="#000" stroke-width="1.8" />
<line x1="639.1424177372372" y1="711.1" x2="639.1424177372372" y2="714.1" stroke="#000" stroke-width="1.8" />
<line x1="649.8135480360115" y1="711.1" x2="649.8135480360115" y2="714.1" stroke="#000" stroke-width="1.8" />
<text x="499.69999999999993" y="732.2" font-size="19.5" text-anchor="middle" fill="#000" font-weight="normal" >0.1</text>
<text x="560.3" y="732.2" font-size="19.5" text-anchor="middle" fill="#000" font-weight="normal" >1</text>
<text x="620.9" y="732.2" font-size="19.5" text-anchor="middle" fill="#000" font-weight="normal" >10</text>
<text x="550.0" y="757" font-size="20.3" text-anchor="middle">[CRPXL] (µg mL<tspan font-size="13" dy="-6.5">-1</tspan><tspan dy="6.5">)</tspan></text>
<text transform="translate(382,631) rotate(-90)" font-size="20" text-anchor="middle">Max. Aggregation (%)</text>
<text transform="translate(399.7,632) rotate(-90)" font-size="13.4" text-anchor="middle">[mean ± SEM, N = 5]</text>
<path d="M457.34,697.05 L457.95,697.05 L458.55,697.05 L459.16,697.05 L459.77,697.05 L460.37,697.05 L460.98,697.05 L461.58,697.05 L462.19,697.05 L462.80,697.05 L463.40,697.05 L464.01,697.04 L464.61,697.04 L465.22,697.04 L465.83,697.04 L466.43,697.04 L467.04,697.04 L467.64,697.04 L468.25,697.04 L468.86,697.04 L469.46,697.04 L470.07,697.03 L470.67,697.03 L471.28,697.03 L471.89,697.03 L472.49,697.02 L473.10,697.02 L473.70,697.02 L474.31,697.02 L474.92,697.01 L475.52,697.01 L476.13,697.00 L476.73,697.00 L477.34,696.99 L477.95,696.99 L478.55,696.98 L479.16,696.97 L479.76,696.96 L480.37,696.95 L480.98,696.94 L481.58,696.93 L482.19,696.92 L482.79,696.90 L483.40,696.89 L484.01,696.87 L484.61,696.85 L485.22,696.83 L485.82,696.81 L486.43,696.78 L487.04,696.75 L487.64,696.72 L488.25,696.68 L488.85,696.65 L489.46,696.60 L490.07,696.56 L490.67,696.50 L491.28,696.44 L491.88,696.38 L492.49,696.31 L493.10,696.23 L493.70,696.14 L494.31,696.05 L494.91,695.94 L495.52,695.82 L496.13,695.69 L496.73,695.55 L497.34,695.39 L497.94,695.22 L498.55,695.03 L499.16,694.81 L499.76,694.58 L500.37,694.32 L500.97,694.04 L501.58,693.72 L502.19,693.38 L502.79,693.00 L503.40,692.58 L504.00,692.12 L504.61,691.62 L505.22,691.07 L505.82,690.46 L506.43,689.79 L507.03,689.07 L507.64,688.27 L508.25,687.40 L508.85,686.45 L509.46,685.42 L510.06,684.30 L510.67,683.08 L511.28,681.76 L511.88,680.33 L512.49,678.79 L513.09,677.13 L513.70,675.35 L514.31,673.44 L514.91,671.40 L515.52,669.23 L516.12,666.92 L516.73,664.49 L517.34,661.92 L517.94,659.22 L518.55,656.41 L519.15,653.47 L519.76,650.43 L520.37,647.30 L520.97,644.08 L521.58,640.78 L522.18,637.44 L522.79,634.05 L523.40,630.64 L524.00,627.23 L524.61,623.82 L525.21,620.45 L525.82,617.13 L526.43,613.86 L527.03,610.67 L527.64,607.57 L528.24,604.58 L528.85,601.69 L529.46,598.92 L530.06,596.28 L530.67,593.76 L531.27,591.38 L531.88,589.13 L532.49,587.01 L533.09,585.03 L533.70,583.17 L534.30,581.44 L534.91,579.83 L535.52,578.33 L536.12,576.95 L536.73,575.67 L537.33,574.49 L537.94,573.40 L538.55,572.41 L539.15,571.49 L539.76,570.65 L540.36,569.88 L540.97,569.18 L541.58,568.54 L542.18,567.96 L542.79,567.42 L543.39,566.94 L544.00,566.50 L544.61,566.09 L545.21,565.73 L545.82,565.40 L546.42,565.10 L547.03,564.82 L547.64,564.57 L548.24,564.35 L548.85,564.15 L549.45,563.96 L550.06,563.79 L550.67,563.64 L551.27,563.50 L551.88,563.38 L552.48,563.27 L553.09,563.17 L553.70,563.07 L554.30,562.99 L554.91,562.91 L555.51,562.85 L556.12,562.78 L556.73,562.73 L557.33,562.68 L557.94,562.63 L558.54,562.59 L559.15,562.55 L559.76,562.52 L560.36,562.49 L560.97,562.46 L561.57,562.44 L562.18,562.41 L562.79,562.39 L563.39,562.37 L564.00,562.36 L564.60,562.34 L565.21,562.33 L565.82,562.32 L566.42,562.31 L567.03,562.30 L567.63,562.29 L568.24,562.28 L568.85,562.27 L569.45,562.26 L570.06,562.26 L570.66,562.25 L571.27,562.25 L571.88,562.24 L572.48,562.24 L573.09,562.24 L573.69,562.23 L574.30,562.23 L574.91,562.23 L575.51,562.22 L576.12,562.22 L576.72,562.22 L577.33,562.22 L577.94,562.22 L578.54,562.22 L579.15,562.21 L579.75,562.21 L580.36,562.21 L580.97,562.21 L581.57,562.21 L582.18,562.21 L582.78,562.21 L583.39,562.21 L584.00,562.21 L584.60,562.21 L585.21,562.21 L585.81,562.21 L586.42,562.21 L587.03,562.21 L587.63,562.20 L588.24,562.20 L588.84,562.20 L589.45,562.20 L590.06,562.20 L590.66,562.20 L591.27,562.20 L591.87,562.20 L592.48,562.20 L593.09,562.20 L593.69,562.20 L594.30,562.20 L594.90,562.20 L595.51,562.20 L596.12,562.20 L596.72,562.20 L597.33,562.20 L597.93,562.20 L598.54,562.20 L599.15,562.20 L599.75,562.20 L600.36,562.20 L600.96,562.20 L601.57,562.20 L602.18,562.20 L602.78,562.20 L603.39,562.20 L603.99,562.20 L604.60,562.20 L605.21,562.20 L605.81,562.20 L606.42,562.20 L607.02,562.20 L607.63,562.20 L608.24,562.20 L608.84,562.20 L609.45,562.20 L610.05,562.20 L610.66,562.20 L611.27,562.20 L611.87,562.20 L612.48,562.20 L613.08,562.20 L613.69,562.20 L614.30,562.20 L614.90,562.20 L615.51,562.20 L616.11,562.20 L616.72,562.20 L617.33,562.20 L617.93,562.20 L618.54,562.20 L619.14,562.20 L619.75,562.20 L620.36,562.20 L620.96,562.20 L621.57,562.20 L622.17,562.20 L622.78,562.20 L623.39,562.20 L623.99,562.20 L624.60,562.20 L625.20,562.20 L625.81,562.20 L626.42,562.20 L627.02,562.20 L627.63,562.20 L628.23,562.20 L628.84,562.20 L629.45,562.20 L630.05,562.20 L630.66,562.20 L631.26,562.20 L631.87,562.20 L632.48,562.20 L633.08,562.20 L633.69,562.20 L634.29,562.20 L634.90,562.20 L635.51,562.20 L636.11,562.20 L636.72,562.20 L637.32,562.20 L637.93,562.20 L638.54,562.20 L639.14,562.20 L639.75,562.20 L640.35,562.20 L640.96,562.20 L641.57,562.20 L642.17,562.20 L642.78,562.20 L643.38,562.20 L643.99,562.20 L644.60,562.20 L645.20,562.20 L645.81,562.20 L646.41,562.20 L647.02,562.20 L647.63,562.20 L648.23,562.20 L648.84,562.20 L649.44,562.20" fill="none" stroke="#000" stroke-width="2.5" stroke-linejoin="round" stroke-linecap="round" />
<path d="M457.34,695.95 L457.95,695.94 L458.55,695.94 L459.16,695.94 L459.77,695.94 L460.37,695.93 L460.98,695.93 L461.58,695.92 L462.19,695.92 L462.80,695.92 L463.40,695.91 L464.01,695.91 L464.61,695.90 L465.22,695.90 L465.83,695.89 L466.43,695.88 L467.04,695.88 L467.64,695.87 L468.25,695.86 L468.86,695.85 L469.46,695.84 L470.07,695.83 L470.67,695.82 L471.28,695.81 L471.89,695.80 L472.49,695.79 L473.10,695.77 L473.70,695.76 L474.31,695.75 L474.92,695.73 L475.52,695.71 L476.13,695.69 L476.73,695.67 L477.34,695.65 L477.95,695.63 L478.55,695.61 L479.16,695.58 L479.76,695.55 L480.37,695.52 L480.98,695.49 L481.58,695.46 L482.19,695.42 L482.79,695.38 L483.40,695.34 L484.01,695.30 L484.61,695.25 L485.22,695.21 L485.82,695.15 L486.43,695.10 L487.04,695.04 L487.64,694.97 L488.25,694.91 L488.85,694.83 L489.46,694.76 L490.07,694.67 L490.67,694.58 L491.28,694.49 L491.88,694.39 L492.49,694.28 L493.10,694.17 L493.70,694.05 L494.31,693.92 L494.91,693.78 L495.52,693.63 L496.13,693.48 L496.73,693.31 L497.34,693.13 L497.94,692.94 L498.55,692.74 L499.16,692.53 L499.76,692.30 L500.37,692.06 L500.97,691.80 L501.58,691.52 L502.19,691.23 L502.79,690.92 L503.40,690.59 L504.00,690.24 L504.61,689.87 L505.22,689.48 L505.82,689.06 L506.43,688.61 L507.03,688.14 L507.64,687.64 L508.25,687.12 L508.85,686.56 L509.46,685.96 L510.06,685.34 L510.67,684.68 L511.28,683.98 L511.88,683.24 L512.49,682.46 L513.09,681.64 L513.70,680.78 L514.31,679.87 L514.91,678.92 L515.52,677.92 L516.12,676.87 L516.73,675.76 L517.34,674.61 L517.94,673.40 L518.55,672.14 L519.15,670.83 L519.76,669.46 L520.37,668.03 L520.97,666.55 L521.58,665.02 L522.18,663.42 L522.79,661.78 L523.40,660.08 L524.00,658.32 L524.61,656.52 L525.21,654.66 L525.82,652.76 L526.43,650.81 L527.03,648.82 L527.64,646.79 L528.24,644.73 L528.85,642.63 L529.46,640.50 L530.06,638.35 L530.67,636.18 L531.27,633.99 L531.88,631.79 L532.49,629.59 L533.09,627.38 L533.70,625.18 L534.30,622.98 L534.91,620.80 L535.52,618.63 L536.12,616.48 L536.73,614.36 L537.33,612.27 L537.94,610.21 L538.55,608.19 L539.15,606.21 L539.76,604.27 L540.36,602.38 L540.97,600.53 L541.58,598.74 L542.18,597.00 L542.79,595.31 L543.39,593.67 L544.00,592.09 L544.61,590.56 L545.21,589.09 L545.82,587.68 L546.42,586.32 L547.03,585.02 L547.64,583.77 L548.24,582.57 L548.85,581.43 L549.45,580.34 L550.06,579.30 L550.67,578.31 L551.27,577.36 L551.88,576.46 L552.48,575.61 L553.09,574.80 L553.70,574.03 L554.30,573.30 L554.91,572.61 L555.51,571.96 L556.12,571.34 L556.73,570.75 L557.33,570.20 L557.94,569.68 L558.54,569.18 L559.15,568.72 L559.76,568.28 L560.36,567.87 L560.97,567.48 L561.57,567.11 L562.18,566.76 L562.79,566.44 L563.39,566.13 L564.00,565.84 L564.60,565.57 L565.21,565.32 L565.82,565.08 L566.42,564.85 L567.03,564.64 L567.63,564.44 L568.24,564.26 L568.85,564.08 L569.45,563.92 L570.06,563.76 L570.66,563.62 L571.27,563.48 L571.88,563.35 L572.48,563.23 L573.09,563.12 L573.69,563.02 L574.30,562.92 L574.91,562.82 L575.51,562.74 L576.12,562.65 L576.72,562.58 L577.33,562.51 L577.94,562.44 L578.54,562.38 L579.15,562.32 L579.75,562.26 L580.36,562.21 L580.97,562.16 L581.57,562.12 L582.18,562.07 L582.78,562.03 L583.39,562.00 L584.00,561.96 L584.60,561.93 L585.21,561.90 L585.81,561.87 L586.42,561.84 L587.03,561.82 L587.63,561.79 L588.24,561.77 L588.84,561.75 L589.45,561.73 L590.06,561.71 L590.66,561.69 L591.27,561.68 L591.87,561.66 L592.48,561.65 L593.09,561.64 L593.69,561.62 L594.30,561.61 L594.90,561.60 L595.51,561.59 L596.12,561.58 L596.72,561.57 L597.33,561.56 L597.93,561.56 L598.54,561.55 L599.15,561.54 L599.75,561.54 L600.36,561.53 L600.96,561.52 L601.57,561.52 L602.18,561.51 L602.78,561.51 L603.39,561.50 L603.99,561.50 L604.60,561.50 L605.21,561.49 L605.81,561.49 L606.42,561.49 L607.02,561.48 L607.63,561.48 L608.24,561.48 L608.84,561.48 L609.45,561.47 L610.05,561.47 L610.66,561.47 L611.27,561.47 L611.87,561.47 L612.48,561.46 L613.08,561.46 L613.69,561.46 L614.30,561.46 L614.90,561.46 L615.51,561.46 L616.11,561.46 L616.72,561.46 L617.33,561.45 L617.93,561.45 L618.54,561.45 L619.14,561.45 L619.75,561.45 L620.36,561.45 L620.96,561.45 L621.57,561.45 L622.17,561.45 L622.78,561.45 L623.39,561.45 L623.99,561.45 L624.60,561.45 L625.20,561.45 L625.81,561.45 L626.42,561.45 L627.02,561.45 L627.63,561.45 L628.23,561.45 L628.84,561.44 L629.45,561.44 L630.05,561.44 L630.66,561.44 L631.26,561.44 L631.87,561.44 L632.48,561.44 L633.08,561.44 L633.69,561.44 L634.29,561.44 L634.90,561.44 L635.51,561.44 L636.11,561.44 L636.72,561.44 L637.32,561.44 L637.93,561.44 L638.54,561.44 L639.14,561.44 L639.75,561.44 L640.35,561.44 L640.96,561.44 L641.57,561.44 L642.17,561.44 L642.78,561.44 L643.38,561.44 L643.99,561.44 L644.60,561.44 L645.20,561.44 L645.81,561.44 L646.41,561.44 L647.02,561.44 L647.63,561.44 L648.23,561.44 L648.84,561.44 L649.44,561.44" fill="none" stroke="#f5bcc8" stroke-width="2.8" stroke-linejoin="round" stroke-linecap="round" />
<path d="M457.34,701.01 L457.95,701.01 L458.55,701.01 L459.16,701.01 L459.77,701.01 L460.37,701.01 L460.98,701.01 L461.58,701.01 L462.19,701.01 L462.80,701.01 L463.40,701.01 L464.01,701.01 L464.61,701.01 L465.22,701.01 L465.83,701.01 L466.43,701.01 L467.04,701.01 L467.64,701.01 L468.25,701.01 L468.86,701.01 L469.46,701.01 L470.07,701.01 L470.67,701.01 L471.28,701.01 L471.89,701.01 L472.49,701.01 L473.10,701.01 L473.70,701.01 L474.31,701.01 L474.92,701.01 L475.52,701.01 L476.13,701.01 L476.73,701.01 L477.34,701.01 L477.95,701.01 L478.55,701.01 L479.16,701.01 L479.76,701.01 L480.37,701.01 L480.98,701.01 L481.58,701.01 L482.19,701.01 L482.79,701.01 L483.40,701.01 L484.01,701.01 L484.61,701.01 L485.22,701.01 L485.82,701.01 L486.43,701.01 L487.04,701.01 L487.64,701.01 L488.25,701.01 L488.85,701.01 L489.46,701.01 L490.07,701.01 L490.67,701.01 L491.28,701.01 L491.88,701.01 L492.49,701.01 L493.10,701.01 L493.70,701.01 L494.31,701.01 L494.91,701.01 L495.52,701.01 L496.13,701.01 L496.73,701.01 L497.34,701.01 L497.94,701.01 L498.55,701.01 L499.16,701.01 L499.76,701.01 L500.37,701.01 L500.97,701.01 L501.58,701.01 L502.19,701.01 L502.79,701.01 L503.40,701.01 L504.00,701.01 L504.61,701.01 L505.22,701.01 L505.82,701.01 L506.43,701.01 L507.03,701.01 L507.64,701.01 L508.25,701.01 L508.85,701.01 L509.46,701.01 L510.06,701.01 L510.67,701.01 L511.28,701.01 L511.88,701.01 L512.49,701.01 L513.09,701.01 L513.70,701.00 L514.31,701.00 L514.91,701.00 L515.52,701.00 L516.12,701.00 L516.73,701.00 L517.34,701.00 L517.94,701.00 L518.55,701.00 L519.15,701.00 L519.76,701.00 L520.37,701.00 L520.97,701.00 L521.58,701.00 L522.18,701.00 L522.79,701.00 L523.40,701.00 L524.00,701.00 L524.61,701.00 L525.21,701.00 L525.82,701.00 L526.43,700.99 L527.03,700.99 L527.64,700.99 L528.24,700.99 L528.85,700.99 L529.46,700.99 L530.06,700.99 L530.67,700.99 L531.27,700.98 L531.88,700.98 L532.49,700.98 L533.09,700.98 L533.70,700.98 L534.30,700.97 L534.91,700.97 L535.52,700.97 L536.12,700.97 L536.73,700.96 L537.33,700.96 L537.94,700.96 L538.55,700.95 L539.15,700.95 L539.76,700.95 L540.36,700.94 L540.97,700.94 L541.58,700.93 L542.18,700.93 L542.79,700.92 L543.39,700.91 L544.00,700.91 L544.61,700.90 L545.21,700.89 L545.82,700.88 L546.42,700.87 L547.03,700.87 L547.64,700.85 L548.24,700.84 L548.85,700.83 L549.45,700.82 L550.06,700.81 L550.67,700.79 L551.27,700.78 L551.88,700.76 L552.48,700.74 L553.09,700.72 L553.70,700.70 L554.30,700.68 L554.91,700.66 L555.51,700.63 L556.12,700.61 L556.73,700.58 L557.33,700.55 L557.94,700.51 L558.54,700.48 L559.15,700.44 L559.76,700.40 L560.36,700.36 L560.97,700.31 L561.57,700.26 L562.18,700.21 L562.79,700.15 L563.39,700.09 L564.00,700.03 L564.60,699.96 L565.21,699.88 L565.82,699.80 L566.42,699.72 L567.03,699.63 L567.63,699.53 L568.24,699.43 L568.85,699.32 L569.45,699.20 L570.06,699.07 L570.66,698.93 L571.27,698.79 L571.88,698.63 L572.48,698.47 L573.09,698.29 L573.69,698.10 L574.30,697.90 L574.91,697.69 L575.51,697.46 L576.12,697.22 L576.72,696.96 L577.33,696.68 L577.94,696.39 L578.54,696.08 L579.15,695.74 L579.75,695.39 L580.36,695.01 L580.97,694.61 L581.57,694.19 L582.18,693.74 L582.78,693.26 L583.39,692.76 L584.00,692.22 L584.60,691.65 L585.21,691.06 L585.81,690.42 L586.42,689.76 L587.03,689.06 L587.63,688.32 L588.24,687.54 L588.84,686.72 L589.45,685.86 L590.06,684.97 L590.66,684.03 L591.27,683.04 L591.87,682.02 L592.48,680.95 L593.09,679.84 L593.69,678.68 L594.30,677.48 L594.90,676.25 L595.51,674.96 L596.12,673.64 L596.72,672.28 L597.33,670.89 L597.93,669.46 L598.54,667.99 L599.15,666.50 L599.75,664.97 L600.36,663.43 L600.96,661.86 L601.57,660.27 L602.18,658.67 L602.78,657.06 L603.39,655.43 L603.99,653.81 L604.60,652.19 L605.21,650.57 L605.81,648.96 L606.42,647.36 L607.02,645.77 L607.63,644.21 L608.24,642.67 L608.84,641.15 L609.45,639.66 L610.05,638.20 L610.66,636.78 L611.27,635.39 L611.87,634.04 L612.48,632.73 L613.08,631.45 L613.69,630.22 L614.30,629.03 L614.90,627.89 L615.51,626.78 L616.11,625.72 L616.72,624.71 L617.33,623.73 L617.93,622.80 L618.54,621.91 L619.14,621.06 L619.75,620.26 L620.36,619.49 L620.96,618.75 L621.57,618.06 L622.17,617.40 L622.78,616.77 L623.39,616.18 L623.99,615.62 L624.60,615.10 L625.20,614.60 L625.81,614.12 L626.42,613.68 L627.02,613.26 L627.63,612.87 L628.23,612.49 L628.84,612.14 L629.45,611.82 L630.05,611.51 L630.66,611.22 L631.26,610.94 L631.87,610.69 L632.48,610.45 L633.08,610.22 L633.69,610.01 L634.29,609.81 L634.90,609.63 L635.51,609.45 L636.11,609.29 L636.72,609.14 L637.32,608.99 L637.93,608.86 L638.54,608.74 L639.14,608.62 L639.75,608.51 L640.35,608.41 L640.96,608.31 L641.57,608.22 L642.17,608.14 L642.78,608.06 L643.38,607.98 L643.99,607.92 L644.60,607.85 L645.20,607.79 L645.81,607.74 L646.41,607.68 L647.02,607.64 L647.63,607.59 L648.23,607.55 L648.84,607.51 L649.44,607.47" fill="none" stroke="#e8000c" stroke-width="2.7" stroke-linejoin="round" stroke-linecap="round" />
<circle cx="457.34" cy="697.5" r="6.1" fill="#000"/>
<circle cx="481.46" cy="695.5" r="6.1" fill="#000"/>
<line x1="499.69999999999993" y1="676.1" x2="499.69999999999993" y2="682.6" stroke="#000" stroke-width="2" />
<line x1="496.0999999999999" y1="676.1" x2="503.29999999999995" y2="676.1" stroke="#000" stroke-width="2.2" />
<circle cx="499.70" cy="682.6" r="6.1" fill="#000"/>
<line x1="517.9424177372372" y1="638.3" x2="517.9424177372372" y2="654.1" stroke="#000" stroke-width="2" />
<line x1="514.3424177372372" y1="638.3" x2="521.5424177372372" y2="638.3" stroke="#000" stroke-width="2.2" />
<circle cx="517.94" cy="654.1" r="6.1" fill="#000"/>
<line x1="542.0575822627627" y1="565.8" x2="542.0575822627627" y2="584.7" stroke="#000" stroke-width="2" />
<line x1="538.4575822627627" y1="565.8" x2="545.6575822627627" y2="565.8" stroke="#000" stroke-width="2.2" />
<circle cx="542.06" cy="584.7" r="6.1" fill="#000"/>
<circle cx="560.30" cy="565.8" r="6.1" fill="#000"/>
<circle cx="578.54" cy="562.8" r="6.1" fill="#000"/>
<circle cx="602.66" cy="559.1" r="6.1" fill="#000"/>
<circle cx="620.90" cy="561" r="6.1" fill="#000"/>
<circle cx="457.34" cy="695.8" r="5.1" fill="#f8c0cc" stroke="#000" stroke-width="2.2"/>
<circle cx="481.46" cy="694.6" r="5.1" fill="#f8c0cc" stroke="#000" stroke-width="2.2"/>
<circle cx="499.70" cy="690" r="5.1" fill="#f8c0cc" stroke="#000" stroke-width="2.2"/>
<line x1="517.9424177372372" y1="669.8" x2="517.9424177372372" y2="678.2" stroke="#000" stroke-width="2" />
<line x1="514.3424177372372" y1="678.2" x2="521.5424177372372" y2="678.2" stroke="#000" stroke-width="2.2" />
<circle cx="517.94" cy="669.8" r="5.1" fill="#f8c0cc" stroke="#000" stroke-width="2.2"/>
<line x1="542.0575822627627" y1="593.1" x2="542.0575822627627" y2="621.5" stroke="#000" stroke-width="2" />
<line x1="538.4575822627627" y1="593.1" x2="545.6575822627627" y2="593.1" stroke="#000" stroke-width="2.2" />
<line x1="538.4575822627627" y1="621.5" x2="545.6575822627627" y2="621.5" stroke="#000" stroke-width="2.2" />
<circle cx="542.06" cy="607.8" r="5.1" fill="#f8c0cc" stroke="#000" stroke-width="2.2"/>
<line x1="560.3" y1="579.4" x2="560.3" y2="588.9" stroke="#000" stroke-width="2" />
<line x1="556.6999999999999" y1="588.9" x2="563.9" y2="588.9" stroke="#000" stroke-width="2.2" />
<circle cx="560.30" cy="579.4" r="5.1" fill="#f8c0cc" stroke="#000" stroke-width="2.2"/>
<circle cx="578.54" cy="565" r="5.1" fill="#f8c0cc" stroke="#000" stroke-width="2.2"/>
<circle cx="602.66" cy="560.8" r="5.1" fill="#f8c0cc" stroke="#000" stroke-width="2.2"/>
<circle cx="620.90" cy="561.1" r="5.1" fill="#f8c0cc" stroke="#000" stroke-width="2.2"/>
<circle cx="517.94" cy="699.7" r="5.0" fill="#ff0a0a" stroke="#000" stroke-width="2.2"/>
<circle cx="542.06" cy="699.7" r="5.0" fill="#ff0a0a" stroke="#000" stroke-width="2.2"/>
<line x1="560.3" y1="686.9" x2="560.3" y2="702.5" stroke="#000" stroke-width="2" />
<line x1="556.6999999999999" y1="686.9" x2="563.9" y2="686.9" stroke="#000" stroke-width="2.2" />
<line x1="556.6999999999999" y1="702.5" x2="563.9" y2="702.5" stroke="#000" stroke-width="2.2" />
<circle cx="560.30" cy="695.2" r="5.0" fill="#ff0a0a" stroke="#000" stroke-width="2.2"/>
<line x1="578.5424177372372" y1="661.1" x2="578.5424177372372" y2="691.1" stroke="#000" stroke-width="2" />
<line x1="574.9424177372372" y1="661.1" x2="582.1424177372372" y2="661.1" stroke="#000" stroke-width="2.2" />
<line x1="574.9424177372372" y1="691.1" x2="582.1424177372372" y2="691.1" stroke="#000" stroke-width="2.2" />
<circle cx="578.54" cy="675.8" r="5.0" fill="#ff0a0a" stroke="#000" stroke-width="2.2"/>
<line x1="602.6575822627627" y1="625.2" x2="602.6575822627627" y2="673.1" stroke="#000" stroke-width="2" />
<line x1="599.0575822627627" y1="625.2" x2="606.2575822627628" y2="625.2" stroke="#000" stroke-width="2.2" />
<line x1="599.0575822627627" y1="673.1" x2="606.2575822627628" y2="673.1" stroke="#000" stroke-width="2.2" />
<circle cx="602.66" cy="649.1" r="5.0" fill="#ff0a0a" stroke="#000" stroke-width="2.2"/>
<line x1="620.9" y1="605.3" x2="620.9" y2="651.9" stroke="#000" stroke-width="2" />
<line x1="617.3" y1="605.3" x2="624.5" y2="605.3" stroke="#000" stroke-width="2.2" />
<line x1="617.3" y1="651.9" x2="624.5" y2="651.9" stroke="#000" stroke-width="2.2" />
<circle cx="620.90" cy="628.9" r="5.0" fill="#ff0a0a" stroke="#000" stroke-width="2.2"/>
<line x1="639.1424177372372" y1="585.6" x2="639.1424177372372" y2="637.2" stroke="#000" stroke-width="2" />
<line x1="635.5424177372372" y1="585.6" x2="642.7424177372372" y2="585.6" stroke="#000" stroke-width="2.2" />
<line x1="635.5424177372372" y1="637.2" x2="642.7424177372372" y2="637.2" stroke="#000" stroke-width="2.2" />
<circle cx="639.14" cy="611.4" r="5.0" fill="#ff0a0a" stroke="#000" stroke-width="2.2"/>
<text x="494.6" y="623.3" font-size="17.7" text-anchor="start" fill="#000" font-weight="normal" >(3)</text>
<text x="551.8" y="623.4" font-size="17.7" text-anchor="start" fill="#000" font-weight="normal" >(4)</text>
<text x="609.2" y="674.9" font-size="17.7" text-anchor="start" fill="#000" font-weight="normal" >(5)</text>
</svg></body></html>
